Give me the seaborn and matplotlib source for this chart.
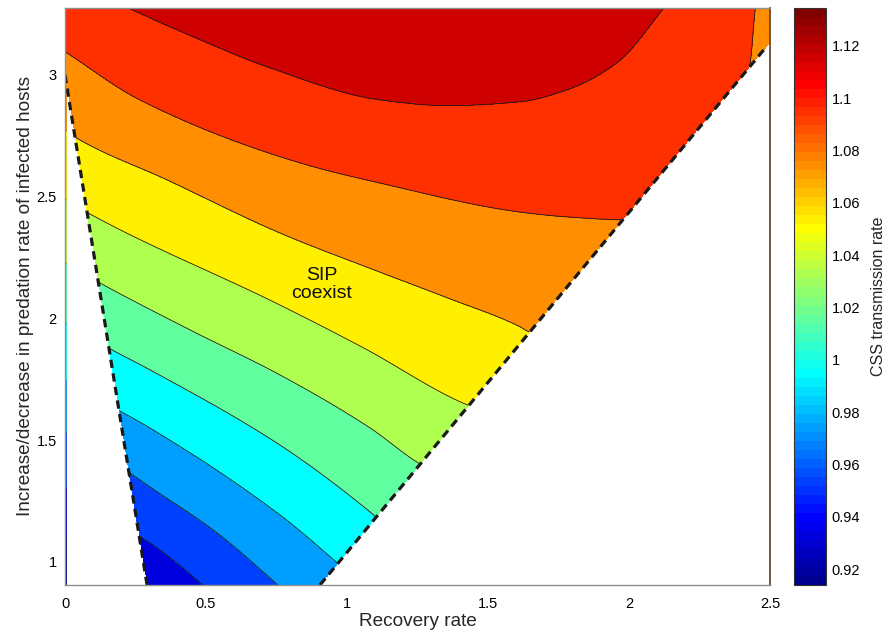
import numpy as np
import matplotlib
matplotlib.use("Agg")
import matplotlib.pyplot as plt
from matplotlib.colors import ListedColormap, Normalize
from matplotlib.cm import ScalarMappable
import seaborn as sns

# ---------------- data ----------------
levels = [0.92, 0.94, 0.96, 0.98, 1.00, 1.02, 1.04, 1.06, 1.08, 1.10, 1.12]

# level lines (x = recovery rate, y = predation change); points outside the
# visible wedge only keep the lines ordered in the hidden (white) area
l092_x = [0.0, 0.3, 2.5]
l092_y = [0.90, 0.65, -0.6]
l094_x = [0.0, 0.15, 0.3, 0.6, 2.5]
l094_y = [1.103, 0.99, 0.85, 0.5, -0.4]
l096_x = [0.0, 0.273, 0.301, 0.383, 0.489, 0.8, 2.5]
l096_y = [1.308, 1.099, 1.078, 1.008, 0.905, 0.6, -0.2]
l098_x = [0.0, 0.23, 0.301, 0.538, 0.755, 1.0, 2.5]
l098_y = [1.534, 1.365, 1.308, 1.12, 0.905, 0.65, 0.0]
l100_x = [0.0, 0.188, 0.301, 0.762, 0.965, 1.2, 2.5]
l100_y = [1.747, 1.624, 1.55, 1.193, 0.996, 0.75, 0.2]
l102_x = [0.0, 0.16, 0.301, 0.762, 1.082, 1.106, 1.4, 2.5]
l102_y = [1.982, 1.875, 1.789, 1.48, 1.205, 1.181, 0.9, 0.5]
l104_x = [0.0, 0.117, 0.443, 0.762, 1.082, 1.252, 1.6, 2.5]
l104_y = [2.228, 2.15, 1.953, 1.768, 1.55, 1.407, 1.2, 0.8]
l106_x = [0.0, 0.082, 0.762, 1.057, 1.426, 1.8, 2.5]
l106_y = [2.49, 2.433, 2.055, 1.88, 1.645, 1.5, 1.2]
l108_x = [0.0, 0.035, 0.362, 0.762, 1.117, 1.355, 1.613, 1.643, 2.0, 2.5]
l108_y = [2.774, 2.745, 2.569, 2.351, 2.19, 2.085, 1.966, 1.946, 1.85, 1.7]
l110_x = [0.0, 0.266, 0.833, 1.117, 1.613, 1.78, 1.986, 2.2, 2.40, 2.43, 2.447, 2.47, 2.5]
l110_y = [3.096, 2.897, 2.639, 2.556, 2.437, 2.417, 2.405, 2.6, 2.92, 3.055, 3.27, 3.45, 3.6]
l112_x = [0.0, 0.223, 0.479, 0.716, 1.117, 1.355, 1.613, 1.78, 1.957, 2.121, 2.3, 2.5]
l112_y = [3.40, 3.275, 3.144, 3.033, 2.897, 2.873, 2.889, 2.938, 3.049, 3.271, 3.55, 3.85]
z_low, z_high = 0.90, 1.135          # values far below / above the lines

# borders of the coexistence wedge (dashed lines)
left_bx = [0.0, 0.291]
left_by = [3.0, 0.905]
right_bx = [0.904, 2.49]
right_by = [0.905, 3.12]

x_ticks = [0, 0.5, 1, 1.5, 2, 2.5]
x_ticklabels = ["0", "0.5", "1", "1.5", "2", "2.5"]
y_ticks = [1, 1.5, 2, 2.5, 3]
y_ticklabels = ["1", "1.5", "2", "2.5", "3"]
cb_ticks = [0.92, 0.94, 0.96, 0.98, 1.00, 1.02, 1.04, 1.06, 1.08, 1.10, 1.12]
cb_ticklabels = ["0.92", "0.94", "0.96", "0.98", "1", "1.02", "1.04", "1.06",
                 "1.08", "1.1", "1.12"]
c_min, c_max = 0.914, 1.1345


# ---------------- smooth curve through the read points ----------------
def pchip(xp, yp, x):
    xp = np.asarray(xp, float)
    yp = np.asarray(yp, float)
    h = np.diff(xp)
    d = np.diff(yp) / h
    n = xp.size
    m = np.zeros(n)
    for k in range(1, n - 1):
        if d[k - 1] * d[k] > 0:
            w1 = 2 * h[k] + h[k - 1]
            w2 = h[k] + 2 * h[k - 1]
            m[k] = (w1 + w2) / (w1 / d[k - 1] + w2 / d[k])
    m[0] = d[0]
    m[-1] = d[-1]
    i = np.clip(np.searchsorted(xp, x) - 1, 0, n - 2)
    t = (x - xp[i]) / h[i]
    h00 = 2 * t**3 - 3 * t**2 + 1
    h10 = t**3 - 2 * t**2 + t
    h01 = -2 * t**3 + 3 * t**2
    h11 = t**3 - t**2
    return h00 * yp[i] + h10 * h[i] * m[i] + h01 * yp[i + 1] + h11 * h[i] * m[i + 1]


lines = [(l092_x, l092_y), (l094_x, l094_y), (l096_x, l096_y), (l098_x, l098_y),
         (l100_x, l100_y), (l102_x, l102_y), (l104_x, l104_y), (l106_x, l106_y),
         (l108_x, l108_y), (l110_x, l110_y), (l112_x, l112_y)]

xg = np.linspace(0.0, 2.5, 1001)
yg = np.linspace(0.88, 3.30, 969)
cross = np.array([pchip(lx, ly, xg) for lx, ly in lines])
for k in range(1, cross.shape[0]):
    cross[k] = np.maximum(cross[k], cross[k - 1] + 1e-4)
zs = np.concatenate([[z_low], levels, [z_high]])
Z = np.empty((yg.size, xg.size))
for j in range(xg.size):
    ys = np.concatenate([[-2.0], cross[:, j], [5.0]])
    Z[:, j] = np.interp(yg, ys, zs)

XX, YY = np.meshgrid(xg, yg)
xl = np.interp(YY, left_by[::-1], left_bx[::-1])
slope = (right_by[1] - right_by[0]) / (right_bx[1] - right_bx[0])
yr = right_by[0] + (XX - right_bx[0]) * slope
mask = ((XX > 0.007) & (XX < xl) & (YY < left_by[0])) | (YY < yr)
Zm = np.ma.masked_array(Z, mask=mask)


# ---------------- MATLAB-style jet(64) ----------------
def matlab_jet(m=64):
    n = int(np.ceil(m / 4))
    u = np.concatenate([np.arange(1, n + 1) / n, np.ones(n - 1), np.arange(n, 0, -1) / n])
    g = int(np.ceil(n / 2)) - (1 if m % 4 == 1 else 0) + np.arange(1, len(u) + 1)
    r = g + n
    b = g - n
    J = np.zeros((m, 3))
    k = r <= m
    J[r[k] - 1, 0] = u[k]
    k = g <= m
    J[g[k] - 1, 1] = u[k]
    k = b >= 1
    J[b[k] - 1, 2] = u[k]
    return J


jet64 = matlab_jet(64)
cmap = ListedColormap(jet64)
band_rows = [0, 0, 5, 11, 17, 23, 29, 34, 40, 46, 52, 58]
band_colors = [tuple(jet64[r]) for r in band_rows]

# ---------------- drawing ----------------
sns.set_theme(style="white")
plt.rcParams["font.family"] = ["Liberation Sans", "DejaVu Sans"]

W, H = 886, 635
fig = plt.figure(figsize=(W / 100, H / 100), dpi=100)
ax = fig.add_axes([65 / W, 1 - 585 / H, 705 / W, 577 / H])
cax = fig.add_axes([794 / W, 1 - 585 / H, 32 / W, 577 / H])

fill_levels = [0.5] + levels + [1.5]
ax.contourf(xg, yg, Zm, levels=fill_levels, colors=band_colors, antialiased=False)
ax.contour(xg, yg, Zm, levels=levels, colors="k", linewidths=0.6)

dash = (0, (2.6, 1.7))
ax.plot(left_bx, left_by, color="k", lw=2.3, ls=dash, dash_capstyle="butt")
ax.plot(right_bx, right_by, color="k", lw=2.3, ls=dash, dash_capstyle="butt")

ax.text(0.911, 2.14, "SIP\ncoexist", ha="center", va="center", fontsize=14,
        linespacing=1.12, color="#111111")

ax.set_xlim(0, 2.5)
ax.set_ylim(0.905, 3.275)
ax.set_xticks(x_ticks)
ax.set_xticklabels(x_ticklabels)
ax.set_yticks(y_ticks)
ax.set_yticklabels(y_ticklabels)
ax.tick_params(length=0, labelsize=10.5, colors="black")
ax.tick_params(axis="x", pad=9)
ax.tick_params(axis="y", pad=6)
ax.set_xlabel("Recovery rate", fontsize=13.7, labelpad=1)
ax.set_ylabel("Increase/decrease in predation rate of infected hosts", fontsize=13.7)
ax.yaxis.set_label_coords(-0.044, 0.5)
for s in ["left", "bottom", "top"]:
    ax.spines[s].set_color("#8f8f8f")
    ax.spines[s].set_linewidth(1.0)
ax.spines["right"].set_color("#5a3c1c")
ax.spines["right"].set_linewidth(1.2)
ax.set_facecolor("white")

sm = ScalarMappable(norm=Normalize(c_min, c_max), cmap=cmap)
cb = fig.colorbar(sm, cax=cax)
cb.set_ticks(cb_ticks)
cb.set_ticklabels(cb_ticklabels)
cb.ax.tick_params(direction="in", length=4, width=0.8, left=True, right=True,
                  labelsize=10.5, pad=4, colors="black")
cb.outline.set_edgecolor("#333333")
cb.outline.set_linewidth(0.8)
cb.set_label("CSS transmission rate", fontsize=11.5, labelpad=8)

fig.savefig("out.png", dpi=100)
